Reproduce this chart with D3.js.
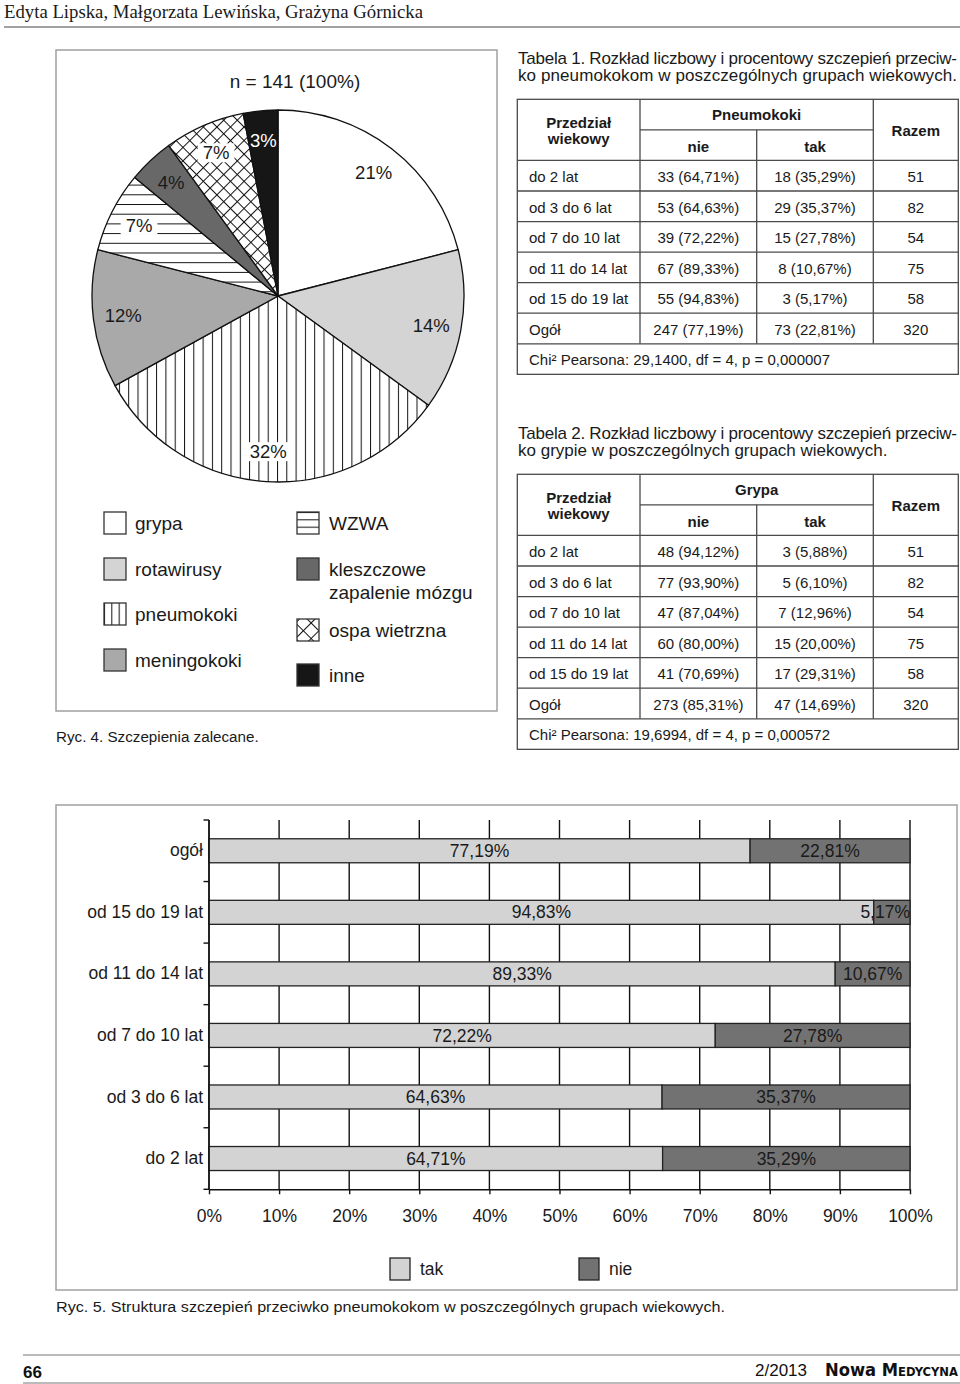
<!DOCTYPE html>
<html><head><meta charset="utf-8">
<script src="https://cdn.jsdelivr.net/npm/d3@7/dist/d3.min.js"></script>
<style>body{margin:0;background:#fff}svg{display:block;font-family:"Liberation Sans",Arial,sans-serif}</style>
</head><body>
<svg id="c" width="960" height="1384"></svg>
<script>
// ---------- DATA ----------
const headerText = "Edyta Lipska, Małgorzata Lewińska, Grażyna Górnicka";
const pieTitle = "n = 141 (100%)";
const pieLabels = ["grypa","rotawirusy","pneumokoki","meningokoki","WZWA","kleszczowe|zapalenie mózgu","ospa wietrzna","inne"];
const pieValues = [21,14,32,12,7,4,7,3];
const pieCaption = "Ryc. 4. Szczepienia zalecane.";

const ageGroups = ["do 2 lat","od 3 do 6 lat","od 7 do 10 lat","od 11 do 14 lat","od 15 do 19 lat","Ogół"];
const t1Title = ["Tabela 1. Rozkład liczbowy i procentowy szczepień przeciw-","ko pneumokokom w poszczególnych grupach wiekowych."];
const pneumoNieN = [33,53,39,67,55,247];
const pneumoNiePct = [64.71,64.63,72.22,89.33,94.83,77.19];
const pneumoTakN = [18,29,15,8,3,73];
const pneumoTakPct = [35.29,35.37,27.78,10.67,5.17,22.81];
const pneumoRazem = [51,82,54,75,58,320];
const pneumoChi = "Chi² Pearsona: 29,1400, df = 4, p = 0,000007";

const t2Title = ["Tabela 2. Rozkład liczbowy i procentowy szczepień przeciw-","ko grypie w poszczególnych grupach wiekowych."];
const grypaNieN = [48,77,47,60,41,273];
const grypaNiePct = [94.12,93.90,87.04,80.00,70.69,85.31];
const grypaTakN = [3,5,7,15,17,47];
const grypaTakPct = [5.88,6.10,12.96,20.00,29.31,14.69];
const grypaRazem = [51,82,54,75,58,320];
const grypaChi = "Chi² Pearsona: 19,6994, df = 4, p = 0,000572";

const barCategories = ["ogół","od 15 do 19 lat","od 11 do 14 lat","od 7 do 10 lat","od 3 do 6 lat","do 2 lat"];
const barTak = [77.19,94.83,89.33,72.22,64.63,64.71];
const barNie = [22.81,5.17,10.67,27.78,35.37,35.29];
const barTicks = [0,10,20,30,40,50,60,70,80,90,100];
const barLegend = ["tak","nie"];
const barCaption = "Ryc. 5. Struktura szczepień przeciwko pneumokokom w poszczególnych grupach wiekowych.";

const footerPage = "66";
const footerIssue = "2/2013";
const footerJournal = "Nowa Medycyna";

// ---------- DRAW ----------
const svg = d3.select("#c");
const TXT = "#1a1a1a";
const fmt = v => d3.format(".2f")(v).replace(".", ",");

// patterns
const defs = svg.append("defs");
function vpat(id, w, x0){
  const p = defs.append("pattern").attr("id", id).attr("patternUnits","userSpaceOnUse")
    .attr("width", w).attr("height", 10).attr("x", x0 || 0);
  p.append("rect").attr("width", w).attr("height", 10).attr("fill","#fff");
  p.append("line").attr("x1",0.5).attr("x2",0.5).attr("y1",0).attr("y2",10).attr("stroke","#111").attr("stroke-width",1);
}
function hpat(id, h, y0){
  const p = defs.append("pattern").attr("id", id).attr("patternUnits","userSpaceOnUse")
    .attr("width", 10).attr("height", h).attr("y", y0 || 0);
  p.append("rect").attr("width", 10).attr("height", h).attr("fill","#fff");
  p.append("line").attr("x1",0).attr("x2",10).attr("y1",0.5).attr("y2",0.5).attr("stroke","#111").attr("stroke-width",1);
}
function xpat(id, s, x0, y0){
  const p = defs.append("pattern").attr("id", id).attr("patternUnits","userSpaceOnUse")
    .attr("width", s).attr("height", s).attr("x", x0||0).attr("y", y0||0)
    .attr("patternTransform","rotate(45)");
  p.append("rect").attr("width", s).attr("height", s).attr("fill","#fff");
  p.append("line").attr("x1",0).attr("x2",s).attr("y1",0.5).attr("y2",0.5).attr("stroke","#111").attr("stroke-width",1);
  p.append("line").attr("x1",0.5).attr("x2",0.5).attr("y1",0).attr("y2",s).attr("stroke","#111").attr("stroke-width",1);
}
vpat("vs", 9.3, 278);
hpat("hs", 9.7, 296);
xpat("xs", 9.6, 0, 0);

const fills = ["#ffffff","#d4d4d4","url(#vs)","#a9a9a9","url(#hs)","#686868","url(#xs)","#161616"];

// header
svg.append("text").attr("x",4).attr("y",18).attr("font-family","'Liberation Serif','Times New Roman',serif")
  .attr("font-size",18).attr("fill",TXT).attr("textLength",419).attr("lengthAdjust","spacingAndGlyphs").text(headerText);
svg.append("line").attr("x1",4).attr("x2",960).attr("y1",27).attr("y2",27).attr("stroke","#444").attr("stroke-width",1);

// ---- pie panel ----
svg.append("rect").attr("x",56).attr("y",50).attr("width",441).attr("height",661)
  .attr("fill","none").attr("stroke","#a0a0a0").attr("stroke-width",1.5);
svg.append("text").attr("x",295).attr("y",81).attr("dy","0.35em").attr("text-anchor","middle")
  .attr("font-size",19).attr("fill",TXT).text(pieTitle);

const cx = 278, cy = 296, R = 186;
const pie = d3.pie().sort(null).value(d => d)(pieValues);
const arc = d3.arc().innerRadius(0).outerRadius(R);
const gp = svg.append("g").attr("transform",`translate(${cx},${cy})`);
gp.selectAll("path").data(pie).join("path")
  .attr("d", arc).attr("fill", (d,i) => fills[i]).attr("stroke","#111").attr("stroke-width",1.3).attr("stroke-linejoin","round");
const lArc = d3.arc().innerRadius(156).outerRadius(156);
const labs = gp.selectAll("g.lab").data(pie).join("g").attr("class","lab")
  .attr("transform", d => `translate(${lArc.centroid(d)})`);
labs.each(function(d,i){
  const g = d3.select(this);
  const t = g.append("text").attr("text-anchor","middle").attr("dy","0.35em").attr("font-size",18.5)
    .attr("fill", i === 7 ? "#fff" : TXT).text(d.value + "%");
  if (fills[i].startsWith("url")) {
    const b = t.node().getBBox();
    const pad = i === 2 ? 2 : 5;
    g.insert("rect","text").attr("x",b.x-pad).attr("y",b.y+1).attr("width",b.width+2*pad).attr("height",b.height-2).attr("fill","#fff");
  }
});

// pie legend
vpat("vsL", 7.33, 104);
hpat("hsL", 7.33, 512);
xpat("xsL", 11, 0, 0);
const legFills = ["#ffffff","#d4d4d4","url(#vsL)","#a9a9a9","url(#hsL)","#686868","url(#xsL)","#161616"];
const legY = [523,569,614,660,523,569,630,675];
const gl = svg.append("g");
pieLabels.forEach((lab,i) => {
  const bx = i < 4 ? 104 : 297;
  gl.append("rect").attr("x",bx).attr("y",legY[i]-11).attr("width",22).attr("height",22)
    .attr("fill",legFills[i]).attr("stroke","#333").attr("stroke-width",1.3);
  const parts = lab.split("|");
  parts.forEach((p,k) => {
    gl.append("text").attr("x",bx+(i<4?31:32)).attr("y",legY[i]+k*23).attr("dy","0.35em")
      .attr("font-size",19).attr("fill",TXT).text(p);
  });
});
svg.append("text").attr("x",56).attr("y",737).attr("dy","0.35em").attr("font-size",15.2).attr("fill",TXT).text(pieCaption);

// ---- tables ----
function drawTable(y0, title, head, nieN, niePct, takN, takPct, razem, chi) {
  const g = svg.append("g");
  const ty = [y0 - 41, y0 - 24];
  g.append("text").attr("x",518).attr("y",ty[0]).attr("dy","0.35em").attr("font-size",17).attr("fill",TXT)
    .attr("textLength",439).attr("lengthAdjust","spacing").text(title[0]);
  const t2 = g.append("text").attr("x",518).attr("y",ty[1]).attr("dy","0.35em").attr("font-size",17).attr("fill",TXT).text(title[1]);
  if (title[1].length > 47) t2.attr("textLength",439).attr("lengthAdjust","spacing");
  const X = [517.3, 640, 756.7, 873.3, 958.3];
  const rh = 30.56;
  const st = {stroke:"#4a4a4a", w:1.3};
  const L = (x1,y1,x2,y2) => g.append("line").attr("x1",x1).attr("y1",y1).attr("x2",x2).attr("y2",y2)
    .attr("stroke",st.stroke).attr("stroke-width",st.w);
  g.append("rect").attr("x",X[0]).attr("y",y0).attr("width",X[4]-X[0]).attr("height",9*rh)
    .attr("fill","none").attr("stroke",st.stroke).attr("stroke-width",st.w);
  L(X[1],y0,X[1],y0+8*rh); L(X[3],y0,X[3],y0+8*rh); L(X[2],y0+rh,X[2],y0+8*rh);
  L(X[1],y0+rh,X[3],y0+rh);
  for (let r=2;r<=8;r++) L(X[0],y0+r*rh,X[4],y0+r*rh);
  const T = (x,y,s,anchor,bold) => g.append("text").attr("x",x).attr("y",y).attr("dy","0.35em")
    .attr("text-anchor",anchor).attr("font-size",15).attr("font-weight",bold?"bold":"normal").attr("fill",TXT).text(s);
  T((X[0]+X[1])/2, y0+23.5, "Przedział", "middle", true);
  T((X[0]+X[1])/2, y0+39.5, "wiekowy", "middle", true);
  T((X[1]+X[3])/2, y0+15.5, head, "middle", true);
  T((X[1]+X[2])/2, y0+47, "nie", "middle", true);
  T((X[2]+X[3])/2, y0+47, "tak", "middle", true);
  T((X[3]+X[4])/2, y0+31.5, "Razem", "middle", true);
  ageGroups.forEach((a,i) => {
    const yc = y0 + (2+i)*rh + rh/2 + 1;
    T(529, yc, a, "start");
    T((X[1]+X[2])/2, yc, `${nieN[i]} (${fmt(niePct[i])}%)`, "middle");
    T((X[2]+X[3])/2, yc, `${takN[i]} (${fmt(takPct[i])}%)`, "middle");
    T((X[3]+X[4])/2, yc, razem[i], "middle");
  });
  T(529, y0 + 8*rh + rh/2 + 1, chi, "start");
}
drawTable(99.3, t1Title, "Pneumokoki", pneumoNieN, pneumoNiePct, pneumoTakN, pneumoTakPct, pneumoRazem, pneumoChi);
drawTable(474.3, t2Title, "Grypa", grypaNieN, grypaNiePct, grypaTakN, grypaTakPct, grypaRazem, grypaChi);

// ---- bar chart ----
svg.append("rect").attr("x",56).attr("y",805).attr("width",901).attr("height",485)
  .attr("fill","none").attr("stroke","#a0a0a0").attr("stroke-width",1.5);
const x = d3.scaleLinear().domain([0,100]).range([209,910]);
const y = d3.scaleBand().domain(barCategories).range([820,1189.3]).paddingInner(0.61).paddingOuter(0.305);
const gb = svg.append("g");
gb.selectAll("line.grid").data(barTicks).join("line").attr("class","grid")
  .attr("x1",d=>x(d)).attr("x2",d=>x(d)).attr("y1",820).attr("y2",1189.3)
  .attr("stroke","#111").attr("stroke-width",1.4);
const step = y.step();
gb.selectAll("line.ct").data(d3.range(barCategories.length+1)).join("line").attr("class","ct")
  .attr("x1",203.5).attr("x2",209).attr("y1",i=>820+i*step).attr("y2",i=>820+i*step)
  .attr("stroke","#111").attr("stroke-width",1.4);
const rows = barCategories.map((c,i)=>({c, tak:barTak[i], nie:barNie[i]}));
gb.selectAll("rect.tak").data(rows).join("rect").attr("class","tak")
  .attr("x",x(0)).attr("y",d=>y(d.c)).attr("width",d=>x(d.tak)-x(0)).attr("height",y.bandwidth())
  .attr("fill","#d3d3d3").attr("stroke","#222").attr("stroke-width",1.3);
gb.selectAll("rect.nie").data(rows).join("rect").attr("class","nie")
  .attr("x",d=>x(d.tak)).attr("y",d=>y(d.c)).attr("width",d=>x(100)-x(d.tak)).attr("height",y.bandwidth())
  .attr("fill","#727272").attr("stroke","#222").attr("stroke-width",1.3);
rows.forEach(d => {
  const yc = y(d.c) + y.bandwidth()/2;
  gb.append("text").attr("x",(x(0)+x(d.tak))/2).attr("y",yc).attr("dy","0.35em").attr("text-anchor","middle")
    .attr("font-size",17.5).attr("fill",TXT).text(fmt(d.tak)+"%");
  const t = gb.append("text").attr("x",(x(d.tak)+x(100))/2).attr("y",yc).attr("dy","0.35em").attr("text-anchor","middle")
    .attr("font-size",17.5).attr("fill",TXT).text(fmt(d.nie)+"%");
  const b = t.node().getBBox();
  if (b.x + b.width > x(100)) t.attr("text-anchor","end").attr("x", x(100));
});
const ya = gb.append("g").attr("transform","translate(209,0)")
  .call(d3.axisLeft(y).tickSize(0).tickPadding(6));
ya.select(".domain").remove();
ya.selectAll("text").attr("font-size",17.5).attr("font-family","'Liberation Sans',Arial,sans-serif").attr("fill",TXT);
gb.append("line").attr("x1",209).attr("x2",209).attr("y1",820).attr("y2",1189.3).attr("stroke","#111").attr("stroke-width",1.4);
const xa = gb.append("g").attr("transform","translate(0,1189.3)")
  .call(d3.axisBottom(x).tickValues(barTicks).tickFormat(d=>d+"%").tickSize(5).tickSizeOuter(0).tickPadding(15.5));
xa.select(".domain").attr("stroke","#111").attr("stroke-width",1.4);
xa.selectAll(".tick line").attr("stroke","#111").attr("stroke-width",1.4);
xa.selectAll("text").attr("font-size",17.5).attr("font-family","'Liberation Sans',Arial,sans-serif").attr("fill",TXT);
const legX = [390, 579];
const legC = ["#d3d3d3","#727272"];
barLegend.forEach((l,i) => {
  gb.append("rect").attr("x",legX[i]).attr("y",1258).attr("width",20).attr("height",22)
    .attr("fill",legC[i]).attr("stroke","#222").attr("stroke-width",1.3);
  gb.append("text").attr("x",legX[i]+30).attr("y",1269).attr("dy","0.35em").attr("font-size",17.5).attr("fill",TXT).text(l);
});
svg.append("text").attr("x",56).attr("y",1307).attr("dy","0.35em").attr("font-size",15.2).attr("fill",TXT)
  .attr("textLength",669).attr("lengthAdjust","spacingAndGlyphs").text(barCaption);

// ---- footer ----
svg.append("line").attr("x1",23).attr("x2",960).attr("y1",1355).attr("y2",1355).attr("stroke","#777").attr("stroke-width",1.2);
svg.append("line").attr("x1",23).attr("x2",960).attr("y1",1383).attr("y2",1383).attr("stroke","#777").attr("stroke-width",1.2);
svg.append("text").attr("x",23).attr("y",1372).attr("dy","0.35em").attr("font-size",17).attr("font-weight","bold").attr("fill","#111").text(footerPage);
svg.append("text").attr("x",755).attr("y",1370).attr("dy","0.35em").attr("font-size",17).attr("fill","#111").text(footerIssue);
const fj = svg.append("text").attr("x",825).attr("y",1370).attr("dy","0.35em").attr("font-size",17).attr("font-weight","bold")
  .attr("fill","#111").attr("font-family","'DejaVu Sans Condensed','DejaVu Sans',sans-serif")
  .attr("textLength",133).attr("lengthAdjust","spacingAndGlyphs");
fj.append("tspan").text(footerJournal.slice(0,6));
fj.append("tspan").attr("font-variant","small-caps").text(footerJournal.slice(6));
</script>
</body></html>
